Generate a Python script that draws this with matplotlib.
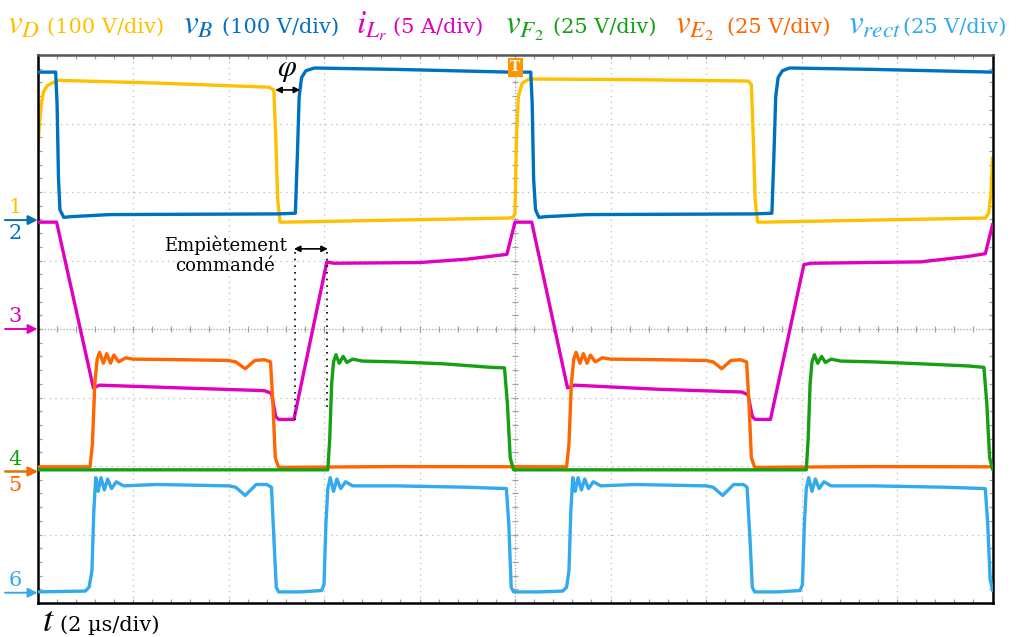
import matplotlib
matplotlib.use('Agg')
import matplotlib.pyplot as plt
import numpy as np

# ---- oscilloscope traces: time in us, values in V or A ----
t_vD = [0.0, 0.04, 0.08, 0.13, 0.2, 0.3, 0.45, 2.5, 4.85, 4.95, 4.99, 5.03, 5.08, 5.2, 7.5, 9.9,
        9.97, 10.0, 10.03, 10.07, 10.15, 10.3, 12.5, 14.88, 14.95, 14.99, 15.03, 15.08, 15.2, 17.5,
        19.85, 19.92, 19.97, 20.0]
vD = [95, 140, 170, 188, 196, 200, 204, 200, 194, 190, 120, 30, -3, -3, 0, 3,
      5, 10, 120, 180, 200, 206, 205, 203, 198, 120, 30, -3, -3, 0,
      3, 10, 40, 90]

t_vB = [0.0, 0.38, 0.41, 0.44, 0.47, 0.55, 0.7, 1.5, 5.0, 5.40, 5.44, 5.48, 5.53, 5.62, 5.8, 7.5,
        9.9, 10.33, 10.36, 10.39, 10.43, 10.5, 10.65, 11.5, 15.0, 15.38, 15.42, 15.46, 15.51, 15.6,
        15.75, 17.5, 20.0]
vB = [216, 216, 170, 60, 15, 4, 5, 8, 9, 10, 90, 180, 208, 218, 222, 220,
      216, 216, 170, 60, 15, 4, 5, 8, 9, 10, 90, 180, 208, 218,
      222, 220, 216]

t_iL = [0.0, 0.40, 1.17, 1.3, 3.0, 4.75, 4.9, 4.99, 5.05, 5.37, 6.06, 6.2, 8.0, 9.0, 9.83, 10.0,
        10.35, 11.1, 11.25, 13.0, 14.75, 14.88, 14.97, 15.03, 15.35, 16.05, 16.2, 18.5, 19.5,
        19.85, 20.0]
iL = [7.8, 7.8, -4.3, -4.1, -4.3, -4.5, -4.7, -6.4, -6.6, -6.6, 4.9, 4.8, 4.85, 5.1, 5.45, 7.8,
      7.8, -4.3, -4.1, -4.4, -4.6, -4.8, -6.4, -6.6, -6.6, 4.7, 4.8, 4.9, 5.3,
      5.5, 7.6]

t_vF2 = [0.0, 6.08, 6.12, 6.16, 6.20, 6.25, 6.32, 6.40, 6.48, 6.6, 6.8, 7.5, 8.5, 9.5, 9.78, 9.84,
         9.9, 9.97, 12.5, 16.1, 16.14, 16.18, 16.22, 16.27, 16.34, 16.42, 16.5, 16.62, 16.82, 17.5,
         18.5, 19.5, 19.82, 19.88, 19.94, 20.0]
vF2 = [0.6, 0.6, 12, 32, 40, 42.6, 39.5, 42, 39.8, 41, 40.3, 40, 39.3, 38, 37.8, 25,
       5, 0.6, 0.6, 0.6, 12, 32, 40, 42.6, 39.5, 42, 39.8, 41, 40.3, 40,
       39.3, 38.5, 38, 25, 5, 1]

t_vE2 = [0.0, 1.10, 1.15, 1.2, 1.25, 1.3, 1.38, 1.45, 1.53, 1.6, 1.7, 1.85, 2.0, 3.0, 4.0, 4.15,
         4.35, 4.55, 4.75, 4.88, 4.93, 4.98, 5.05, 7.5, 11.08, 11.13, 11.18, 11.23, 11.28, 11.36,
         11.43, 11.51, 11.58, 11.68, 11.83, 12.0, 13.0, 14.0, 14.15, 14.33, 14.52, 14.72, 14.85,
         14.9, 14.95, 15.02, 17.5, 20.0]
vE2 = [1.7, 1.7, 10, 32, 41, 43.5, 39.5, 43, 39.5, 42.5, 40, 41.5, 41, 40.8, 40.5, 40,
       37.5, 40.5, 40.8, 40, 25, 5, 1.5, 1.8, 1.7, 10, 32, 41, 43.5, 39.5,
       43, 39.5, 42.5, 40, 41.5, 41, 40.8, 40.5, 40, 37.5, 40.5, 40.8, 40,
       25, 5, 1.5, 1.8, 1.7]

t_rect = [0.0, 1.0, 1.08, 1.14, 1.18, 1.22, 1.27, 1.33, 1.40, 1.47, 1.55, 1.65, 1.8, 2.5, 4.0, 4.15,
          4.35, 4.58, 4.8, 4.9, 4.95, 5.0, 5.05, 5.5, 5.95, 6.0, 6.04, 6.08, 6.13, 6.2, 6.27, 6.35,
          6.45, 6.6, 7.5, 9.0, 9.82, 9.87, 9.92, 9.97,
          10.5, 11.0, 11.08, 11.13, 11.17, 11.21, 11.26, 11.32, 11.39, 11.46, 11.54, 11.64, 11.8,
          12.5, 14.0, 14.15, 14.35, 14.58, 14.78, 14.86, 14.92, 14.97, 15.02, 15.5, 15.97, 16.02,
          16.06, 16.10, 16.15, 16.22, 16.29, 16.37, 16.47, 16.62, 17.5, 19.0, 19.85, 19.9, 19.95,
          20.0]
vrect = [0.3, 0.6, 2, 8, 30, 42, 37, 42, 37.5, 41.5, 38, 40.5, 39, 39.5, 39, 38.5,
         35.5, 39.5, 39.5, 38.5, 20, 2, 0.3, 0.3, 0.8, 3, 25, 38, 42, 37, 41.5, 38,
         40.5, 39, 39, 38.5, 38, 25, 2, 0.3,
         0.3, 0.6, 2, 8, 30, 42, 37, 42, 37.5, 41.5, 38, 40.5, 39,
         39.5, 39, 38.5, 35.5, 39.5, 39.5, 38.5, 20, 2, 0.3, 0.3, 0.8, 3,
         25, 38, 42, 37, 41.5, 38, 40.5, 39, 39, 38.5, 38, 25, 5,
         1]

# channel settings: scale per division and ground position (divisions from centre)
scales = [100, 100, 5, 25, 25, 25]
grounds = [1.59, 1.59, 0.0, -2.08, -2.08, -3.85]
colors = ['#FFC000', '#0070C0', '#E000C0', '#13A113', '#FF6600', '#33AAEE']
symbols = [r'$v_D$', r'$v_B$', r'$i_{L_r}$', r'$v_{F_2}$', r'$v_{E_2}$', r'$v_{rect}$']
units = ['(100 V/div)', '(100 V/div)', '(5 A/div)', '(25 V/div)', '(25 V/div)', '(25 V/div)']

traces = [(t_vD, vD), (t_vB, vB), (t_iL, iL), (t_vF2, vF2), (t_vE2, vE2), (t_rect, vrect)]

plt.rcParams['font.family'] = ['DejaVu Serif']
plt.rcParams['mathtext.fontset'] = 'stix'

W, H = 1019, 637
fig = plt.figure(figsize=(W / 100, H / 100), dpi=100)
ax = fig.add_axes([37.5 / W, 34 / H, 955 / W, 548 / H])
ax.set_xlim(0, 20)
ax.set_ylim(-4, 4)

# graticule
for x in range(2, 20, 2):
  if x != 10:
    ax.axvline(x, color='#b8b8b8', lw=0.9, ls=(0, (1, 3.5)), zorder=0)
for y in range(-3, 4):
  if y != 0:
    ax.axhline(y, color='#b8b8b8', lw=0.9, ls=(0, (1, 3.5)), zorder=0)
ax.axvline(10, color='#a0a0a0', lw=0.9, ls=(0, (1, 1.5)), zorder=0)
ax.axhline(0, color='#a0a0a0', lw=0.9, ls=(0, (1, 1.5)), zorder=0)
ax.plot(np.arange(0.4, 20, 0.4), np.zeros(49), ls='none', marker='|', ms=5, mew=0.9,
        color='#a0a0a0', zorder=0)
ax.plot(np.full(39, 10.0), np.arange(-3.8, 4, 0.2), ls='none', marker='_', ms=5, mew=0.9,
        color='#a0a0a0', zorder=0)

ax.set_xticks(np.arange(0, 20.1, 2))
ax.set_yticks(np.arange(-4, 4.1, 1))
ax.set_xticks(np.arange(0, 20.1, 0.4), minor=True)
ax.set_yticks(np.arange(-4, 4.1, 0.2), minor=True)
ax.tick_params(which='both', direction='in', top=True, right=True, labelbottom=False,
               labelleft=False, length=3, width=0.9, color='#a0a0a0')
for side in ['left', 'bottom', 'right']:
  ax.spines[side].set_linewidth(1.8)
  ax.spines[side].set_color('black')
ax.spines['top'].set_linewidth(1.8)
ax.spines['top'].set_color('#555555')

# traces
order = [0, 1, 2, 4, 3, 5]
for k, i in enumerate(order):
  t, v = traces[i]
  y = grounds[i] + np.array(v) / scales[i]
  ax.plot(t, y, color=colors[i], lw=2.4, zorder=2 + k, solid_joinstyle='round')

# channel ground markers
labels_pos = [('1', 'above'), ('2', 'below'), ('3', 'above'), ('4', 'above'), ('5', 'below'),
              ('6', 'above')]
for i, (lab, where) in enumerate(labels_pos):
  g = grounds[i]
  ax.annotate('', xy=(0, g), xytext=(-0.68, g),
              arrowprops=dict(arrowstyle='-|>', color=colors[i], lw=1.4, mutation_scale=14,
                              shrinkA=0, shrinkB=0),
              annotation_clip=False)
  if where == 'above':
    ax.text(-0.47, g + 0.04, lab, color=colors[i], fontsize=15, ha='center', va='bottom',
            clip_on=False)
  else:
    ax.text(-0.47, g - 0.06, lab, color=colors[i], fontsize=15, ha='center', va='top',
            clip_on=False)

# trigger marker
ax.text(10.01, 3.82, 'T', color='white', fontsize=10, fontweight='bold', ha='center',
        va='center', bbox=dict(boxstyle='square,pad=0.2', fc='#FF9500', ec='none'), zorder=20)

# annotations
ax.text(5.22, 3.8, r'$\varphi$', fontsize=22, ha='center', va='center', zorder=20)
ax.annotate('', xy=(4.98, 3.49), xytext=(5.5, 3.49),
            arrowprops=dict(arrowstyle='<|-|>', color='black', lw=1.2, mutation_scale=9,
                            shrinkA=0, shrinkB=0), zorder=20)
ax.annotate('', xy=(5.37, 1.17), xytext=(6.08, 1.17),
            arrowprops=dict(arrowstyle='<|-|>', color='black', lw=1.2, mutation_scale=9,
                            shrinkA=0, shrinkB=0), zorder=20)
ax.plot([5.39, 5.39], [1.12, -1.33], color='black', lw=1.2, ls=(0, (1, 3)), zorder=20)
ax.plot([6.06, 6.06], [1.12, -1.2], color='black', lw=1.2, ls=(0, (1, 3)), zorder=20)
ax.text(3.93, 1.08, 'Empiètement\ncommandé', fontsize=13, ha='center', va='center',
        linespacing=1.15, zorder=20)

# header legend
sym_x = [7, 183, 356, 505, 675, 848]
unit_x = [47, 222, 393, 553, 727, 903]
for i in range(6):
  fig.text(sym_x[i] / W, 1 - 33 / H, symbols[i], color=colors[i], fontsize=24, va='baseline')
  fig.text(unit_x[i] / W, 1 - 33 / H, units[i], color=colors[i], fontsize=15, va='baseline')

fig.text(42 / W, 1 - 631 / H, r'$t$', fontsize=26, va='baseline')
fig.text(60 / W, 1 - 631 / H, '(2 µs/div)', fontsize=15, va='baseline')

fig.savefig('out.png', dpi=100)
